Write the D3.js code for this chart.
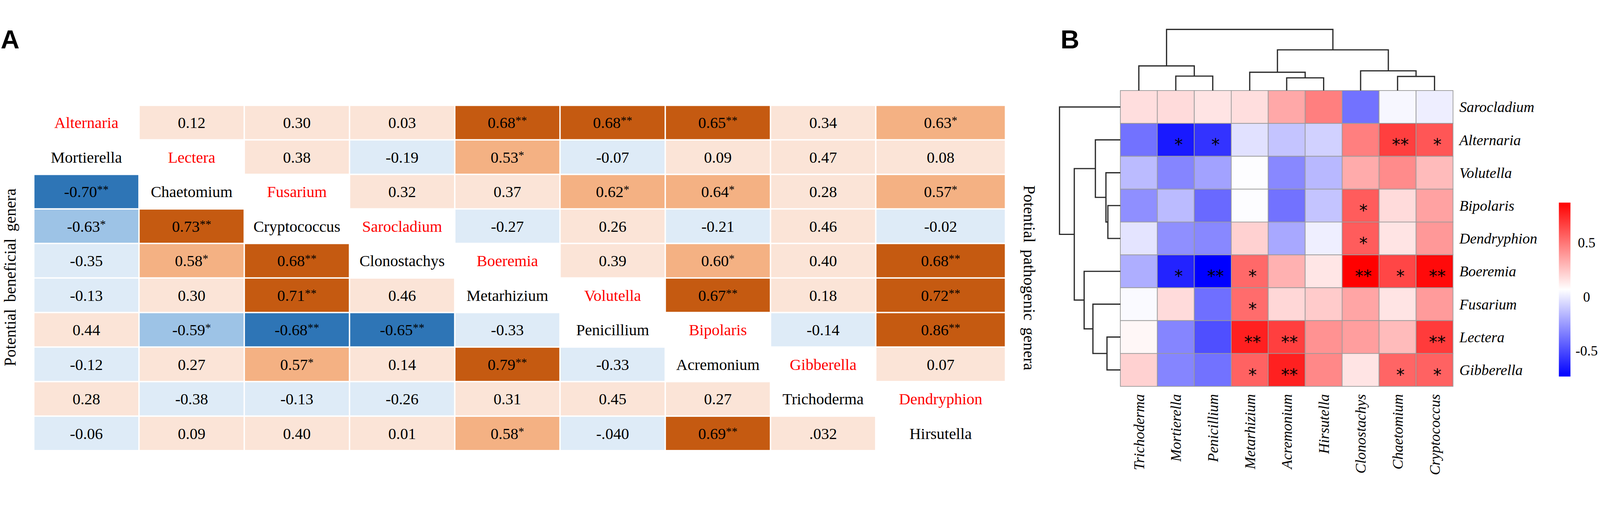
<!DOCTYPE html>
<html>
<head>
  <meta charset="utf-8">
  <title>Correlation of beneficial and pathogenic genera</title>
  <script src="https://d3js.org/d3.v7.min.js"></script>
  <style>
    html, body { margin: 0; padding: 0; background: #fff; overflow: hidden; }
    svg { display: block; }
  </style>
</head>
<body>
  <script>
    var SERIF = '"Liberation Serif", "Times New Roman", serif';
    var SANS = '"Liberation Sans", Arial, sans-serif';

    // ---- panel A data ----
    var pathogens = ['Alternaria', 'Lectera', 'Fusarium', 'Sarocladium', 'Boeremia',
      'Volutella', 'Bipolaris', 'Gibberella', 'Dendryphion'];
    var beneficials = ['Mortierella', 'Chaetomium', 'Cryptococcus', 'Clonostachys',
      'Metarhizium', 'Penicillium', 'Acremonium', 'Trichoderma', 'Hirsutella'];
    // 10 rows x 9 columns, null where a genus name sits
    var cellsA = [
      [null, '0.12', '0.30', '0.03', '0.68**', '0.68**', '0.65**', '0.34', '0.63*'],
      [null, null, '0.38', '-0.19', '0.53*', '-0.07', '0.09', '0.47', '0.08'],
      ['-0.70**', null, null, '0.32', '0.37', '0.62*', '0.64*', '0.28', '0.57*'],
      ['-0.63*', '0.73**', null, null, '-0.27', '0.26', '-0.21', '0.46', '-0.02'],
      ['-0.35', '0.58*', '0.68**', null, null, '0.39', '0.60*', '0.40', '0.68**'],
      ['-0.13', '0.30', '0.71**', '0.46', null, null, '0.67**', '0.18', '0.72**'],
      ['0.44', '-0.59*', '-0.68**', '-0.65**', '-0.33', null, null, '-0.14', '0.86**'],
      ['-0.12', '0.27', '0.57*', '0.14', '0.79**', '-0.33', null, null, '0.07'],
      ['0.28', '-0.38', '-0.13', '-0.26', '0.31', '0.45', '0.27', null, null],
      ['-0.06', '0.09', '0.40', '0.01', '0.58*', '-.040', '0.69**', '.032', null]
    ];

    // ---- panel B data ----
    var rowsB = ['Sarocladium', 'Alternaria', 'Volutella', 'Bipolaris', 'Dendryphion',
      'Boeremia', 'Fusarium', 'Lectera', 'Gibberella'];
    var colsB = ['Trichoderma', 'Mortierella', 'Penicillium', 'Metarhizium', 'Acremonium',
      'Hirsutella', 'Clonostachys', 'Chaetomium', 'Cryptococcus'];
    var valuesB = [
      [0.17, 0.18, 0.15, 0.17, 0.34, 0.47, -0.38, 0.04, 0.01],
      [-0.38, -0.66, -0.58, -0.03, -0.12, -0.08, 0.47, 0.67, 0.60],
      [-0.15, -0.32, -0.23, 0.06, -0.31, -0.16, 0.33, 0.43, 0.28],
      [-0.29, -0.15, -0.41, 0.06, -0.38, -0.12, 0.58, 0.18, 0.36],
      [-0.02, -0.29, -0.31, 0.21, -0.21, 0.015, 0.58, 0.15, 0.39],
      [-0.19, -0.63, -0.74, 0.54, 0.31, 0.145, 0.87, 0.65, 0.84],
      [0.05, 0.18, -0.39, 0.53, 0.19, 0.23, 0.35, 0.15, 0.38],
      [0.09, -0.32, -0.49, 0.77, 0.67, 0.41, 0.37, 0.28, 0.685],
      [0.21, -0.32, -0.38, 0.56, 0.77, 0.44, 0.15, 0.55, 0.56]
    ];
    var starsB = [
      ['', '', '', '', '', '', '', '', ''],
      ['', '*', '*', '', '', '', '', '**', '*'],
      ['', '', '', '', '', '', '', '', ''],
      ['', '', '', '', '', '', '*', '', ''],
      ['', '', '', '', '', '', '*', '', ''],
      ['', '*', '**', '*', '', '', '**', '*', '**'],
      ['', '', '', '*', '', '', '', '', ''],
      ['', '', '', '**', '**', '', '', '', '**'],
      ['', '', '', '*', '**', '', '', '*', '*']
    ];
    // hclust style merges: negative = leaf -(i+1), positive = earlier merge (1-based)
    var colMerge = [
      [-2, -3, 0.41], [-1, 1, 0.70], [-5, -6, 0.36], [-4, 3, 0.52],
      [-8, -9, 0.40], [-7, 5, 0.56], [4, 6, 1.155], [2, 7, 1.736]
    ];
    var rowMerge = [
      [-4, -5, 0.355], [-3, 1, 0.41], [-2, 2, 0.71], [-8, -9, 0.38],
      [-7, 4, 0.78], [-6, 5, 1.03], [3, 6, 1.31], [-1, 7, 1.73]
    ];
    var legendTicks = [0.5, 0, -0.5];

    var svg = d3.select('body').append('svg')
      .attr('viewBox', '0 0 4550 1294')
      .attr('width', '100vw')
      .attr('height', '100vh');

    // ================= panel A =================
    var colW = 299.3, lastW = 369;
    var xA = d3.scaleLinear().domain([0, 8]).range([96, 96 + 8 * colW]);
    var wA = function(c) { return c < 8 ? colW : lastW; };
    var yA = d3.scaleBand().domain(d3.range(10)).range([228, 1211]);

    var fillA = function(v, s) {
      if (v >= 0) return s === '**' ? '#c55a11' : s === '*' ? '#f4b183' : '#fbe4d7';
      return s === '**' ? '#2e75b6' : s === '*' ? '#9dc3e6' : '#deebf7';
    };

    var cellList = [];
    cellsA.forEach(function(row, r) {
      row.forEach(function(t, c) {
        if (t === null) return;
        var m = t.match(/^([-.\d]+)(\**)$/);
        cellList.push({ r: r, c: c, num: m[1], star: m[2], v: +m[1] });
      });
    });

    var gA = svg.append('g').style('font-family', SERIF);
    gA.selectAll('rect.cell')
      .data(cellList)
      .enter().append('rect')
      .attr('class', 'cell')
      .attr('x', function(d) { return xA(d.c) + 2; })
      .attr('y', function(d) { return yA(d.r) + 2; })
      .attr('width', function(d) { return wA(d.c) - 4; })
      .attr('height', yA.bandwidth() - 4)
      .attr('fill', function(d) { return fillA(d.v, d.star); });

    var vt = gA.selectAll('text.val')
      .data(cellList)
      .enter().append('text')
      .attr('class', 'val')
      .attr('x', function(d) { return xA(d.c) + wA(d.c) / 2; })
      .attr('y', function(d) { return yA(d.r) + yA.bandwidth() / 2; })
      .attr('dy', '0.35em')
      .attr('text-anchor', 'middle')
      .attr('font-size', 45)
      .text(function(d) { return d.num; });
    vt.filter(function(d) { return d.star; })
      .append('tspan')
      .attr('font-size', 33)
      .attr('dy', -11)
      .text(function(d) { return d.star; });

    // genus names on the two diagonals
    var namesA = pathogens.map(function(n, i) { return { r: i, c: i, name: n, col: '#ff0000' }; })
      .concat(beneficials.map(function(n, i) { return { r: i + 1, c: i, name: n, col: '#000' }; }));
    gA.selectAll('text.name')
      .data(namesA)
      .enter().append('text')
      .attr('class', 'name')
      .attr('x', function(d) { return xA(d.c) + wA(d.c) / 2; })
      .attr('y', function(d) { return yA(d.r) + yA.bandwidth() / 2; })
      .attr('dy', '0.35em')
      .attr('text-anchor', 'middle')
      .attr('font-size', 45)
      .attr('fill', function(d) { return d.col; })
      .text(function(d) { return d.name; });

    gA.append('text')
      .attr('transform', 'translate(28,718) rotate(-90)')
      .attr('dy', '0.35em')
      .attr('text-anchor', 'middle')
      .attr('font-size', 46)
      .attr('word-spacing', 8)
      .text('Potential beneficial genera');
    gA.append('text')
      .attr('transform', 'translate(2928,719) rotate(90)')
      .attr('dy', '0.35em')
      .attr('text-anchor', 'middle')
      .attr('font-size', 46)
      .attr('word-spacing', 8)
      .text('Potential pathogenic genera');

    svg.append('text')
      .attr('x', 2).attr('y', 66)
      .style('font-family', SANS)
      .attr('font-weight', 'bold')
      .attr('font-size', 74)
      .text('A');

    // ================= panel B =================
    var xB = d3.scaleBand().domain(d3.range(9)).range([3186, 4132]);
    var yB = d3.scaleBand().domain(d3.range(9)).range([186, 1028]);
    var all = d3.merge(valuesB);
    var vmin = d3.min(all), vmax = d3.max(all);
    var color = d3.scaleLinear()
      .domain([vmin, (vmin + vmax) / 2, vmax])
      .range(['#0000ff', '#ffffff', '#ff0000']);

    var cellB = [];
    valuesB.forEach(function(row, r) {
      row.forEach(function(v, c) { cellB.push({ r: r, c: c, v: v, s: starsB[r][c] }); });
    });

    var gB = svg.append('g').style('font-family', SERIF);
    gB.selectAll('rect')
      .data(cellB)
      .enter().append('rect')
      .attr('x', function(d) { return xB(d.c); })
      .attr('y', function(d) { return yB(d.r); })
      .attr('width', xB.bandwidth())
      .attr('height', yB.bandwidth())
      .attr('fill', function(d) { return color(d.v); })
      .attr('stroke', '#9a9a9a')
      .attr('stroke-width', 2);

    gB.selectAll('text.star')
      .data(cellB.filter(function(d) { return d.s; }))
      .enter().append('text')
      .attr('class', 'star')
      .attr('x', function(d) { return xB(d.c) + xB.bandwidth() / 2 + 8; })
      .attr('y', function(d) { return yB(d.r) + yB.bandwidth() / 2 + 30; })
      .attr('text-anchor', 'middle')
      .style('font-family', '"DejaVu Sans", sans-serif')
      .attr('font-size', 48)
      .text(function(d) { return d.s; });

    gB.selectAll('text.rlab')
      .data(rowsB)
      .enter().append('text')
      .attr('class', 'rlab')
      .attr('x', 4150)
      .attr('y', function(d, i) { return yB(i) + yB.bandwidth() / 2; })
      .attr('dy', '0.35em')
      .attr('font-size', 42)
      .attr('font-style', 'italic')
      .text(function(d) { return d; });

    gB.selectAll('text.clab')
      .data(colsB)
      .enter().append('text')
      .attr('class', 'clab')
      .attr('transform', function(d, i) {
        return 'translate(' + (xB(i) + xB.bandwidth() / 2) + ',1050) rotate(-90)';
      })
      .attr('dy', '0.35em')
      .attr('text-anchor', 'end')
      .attr('font-size', 42)
      .attr('font-style', 'italic')
      .text(function(d) { return d; });

    // dendrograms
    function dendro(merges, leafPos, hPos, vertical) {
      var nodes = [];
      var get = function(k) { return k < 0 ? { p: leafPos(-k - 1), h: 0 } : nodes[k - 1]; };
      var segs = [];
      merges.forEach(function(m) {
        var a = get(m[0]), b = get(m[1]);
        segs.push([[a.p, a.h], [a.p, m[2]], [b.p, m[2]], [b.p, b.h]]);
        nodes.push({ p: (a.p + b.p) / 2, h: m[2] });
      });
      var line = d3.line()
        .x(function(d) { return vertical ? d[0] : hPos(d[1]); })
        .y(function(d) { return vertical ? hPos(d[1]) : d[0]; });
      gB.selectAll(null)
        .data(segs)
        .enter().append('path')
        .attr('d', line)
        .attr('fill', 'none')
        .attr('stroke', '#2b2b2b')
        .attr('stroke-width', 3.5);
    }
    var colH = d3.scaleLinear().domain([0, 1.736]).range([186, 12]);
    var rowH = d3.scaleLinear().domain([0, 1.73]).range([3186, 3013]);
    dendro(colMerge, function(i) { return xB(i) + xB.bandwidth() / 2; }, colH, true);
    dendro(rowMerge, function(i) { return yB(i) + yB.bandwidth() / 2; }, rowH, false);

    // colour key
    var ly = d3.scaleLinear().domain([vmin, vmax]).range([1000, 505]);
    var grad = svg.append('defs').append('linearGradient')
      .attr('id', 'key')
      .attr('x1', 0).attr('y1', 1).attr('x2', 0).attr('y2', 0);
    d3.range(0, 1.0001, 0.1).forEach(function(t) {
      grad.append('stop')
        .attr('offset', t)
        .attr('stop-color', color(vmin + t * (vmax - vmin)));
    });
    gB.append('rect')
      .attr('x', 4433).attr('y', ly(vmax))
      .attr('width', 33).attr('height', ly(vmin) - ly(vmax))
      .attr('fill', 'url(#key)');
    gB.selectAll('text.tick')
      .data(legendTicks)
      .enter().append('text')
      .attr('class', 'tick')
      .attr('x', 4512)
      .attr('y', function(d) { return ly(d); })
      .attr('dy', '0.35em')
      .attr('text-anchor', 'middle')
      .attr('font-size', 40)
      .text(function(d) { return d; });

    svg.append('text')
      .attr('x', 3016).attr('y', 66)
      .style('font-family', SANS)
      .attr('font-weight', 'bold')
      .attr('font-size', 74)
      .text('B');
  </script>
</body>
</html>
